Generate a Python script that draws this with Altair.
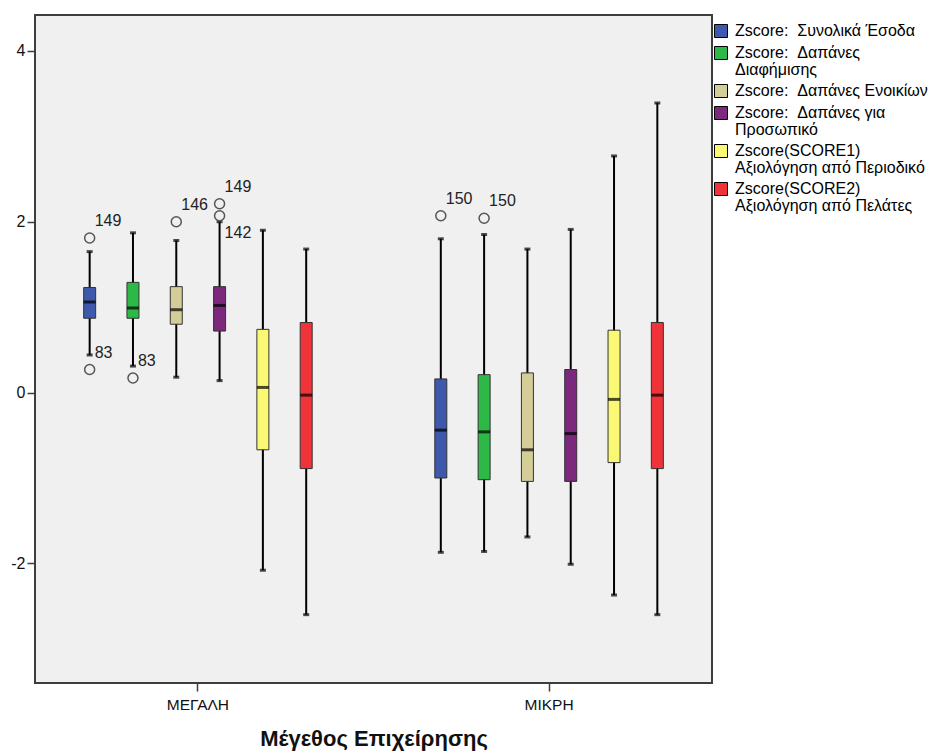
import altair as alt
import pandas as pd

# ---------------- data ----------------
groups = ["ΜΕΓΑΛΗ", "ΜΙΚΡΗ"]
series = [
    "Zscore:\u00a0 Συνολικά Έσοδα",
    "Zscore:\u00a0 Δαπάνες\nΔιαφήμισης",
    "Zscore:\u00a0 Δαπάνες Ενοικίων",
    "Zscore:\u00a0 Δαπάνες για\nΠροσωπικό",
    "Zscore(SCORE1)\nΑξιολόγηση από Περιοδικό",
    "Zscore(SCORE2)\nΑξιολόγηση από Πελάτες",
]
colors = ["#3E58AC", "#2EB848", "#D3CE97", "#7C287D", "#FBF873", "#EF3338"]

# box statistics per group, in series order
whisker_low = {"ΜΕΓΑΛΗ": [0.44, 0.31, 0.18, 0.14, -2.08, -2.60],
               "ΜΙΚΡΗ": [-1.87, -1.86, -1.69, -2.01, -2.37, -2.60]}
q1 = {"ΜΕΓΑΛΗ": [0.87, 0.87, 0.80, 0.72, -0.67, -0.89],
      "ΜΙΚΡΗ": [-1.00, -1.02, -1.04, -1.04, -0.82, -0.89]}
median = {"ΜΕΓΑΛΗ": [1.06, 0.99, 0.97, 1.02, 0.06, -0.03],
          "ΜΙΚΡΗ": [-0.44, -0.46, -0.67, -0.48, -0.08, -0.03]}
q3 = {"ΜΕΓΑΛΗ": [1.23, 1.29, 1.24, 1.24, 0.74, 0.82],
      "ΜΙΚΡΗ": [0.16, 0.21, 0.23, 0.27, 0.73, 0.82]}
whisker_high = {"ΜΕΓΑΛΗ": [1.65, 1.87, 1.78, 2.00, 1.90, 1.68],
                "ΜΙΚΡΗ": [1.80, 1.85, 1.68, 1.91, 2.77, 3.39]}

# outliers
out_group = ["ΜΕΓΑΛΗ", "ΜΕΓΑΛΗ", "ΜΕΓΑΛΗ", "ΜΕΓΑΛΗ", "ΜΕΓΑΛΗ", "ΜΕΓΑΛΗ", "ΜΙΚΡΗ", "ΜΙΚΡΗ"]
out_series_idx = [0, 0, 1, 2, 3, 3, 0, 1]
out_value = [1.81, 0.27, 0.17, 2.00, 2.21, 2.07, 2.07, 2.04]
out_label = ["149", "83", "83", "146", "149", "142", "150", "150"]
labels_below = ["142"]

y_ticks = [-2, 0, 2, 4]
y_domain = [-3.4, 4.42]

# ---------------- tables ----------------
rows = []
for g in groups:
    for i, s in enumerate(series):
        rows.append({"group": g, "series": s,
                     "lo": whisker_low[g][i], "q1": q1[g][i], "med": median[g][i],
                     "q3": q3[g][i], "hi": whisker_high[g][i]})
box_df = pd.DataFrame(rows)

out_df = pd.DataFrame({
    "group": out_group,
    "series": [series[i] for i in out_series_idx],
    "value": out_value,
    "label": out_label,
})

FONT = "Liberation Sans"

x_enc = alt.X("group:N",
              scale=alt.Scale(domain=groups, paddingInner=0.26, paddingOuter=0.094),
              axis=alt.Axis(title="Μέγεθος Επιχείρησης", labelAngle=0, domain=False,
                            tickSize=8, tickColor="#3d3d3d", tickWidth=1.5,
                            labelFontSize=15.5, labelPadding=6, labelColor="#111",
                            labelFont=FONT, titleFont=FONT, titleFontSize=22,
                            titleFontWeight="bold", titleColor="#111",
                            titleY=55, titleBaseline="middle"))
xo_enc = alt.XOffset("series:N",
                     scale=alt.Scale(domain=series, paddingInner=0, paddingOuter=0))
y_scale = alt.Scale(domain=y_domain, nice=False, zero=False)
y_axis = alt.Axis(title=None, values=y_ticks, labelExpr="datum.value + ''",
                  grid=False, domain=False,
                  tickSize=8, tickColor="#3d3d3d", tickWidth=1.5, labelFontSize=16,
                  labelPadding=2, labelColor="#111", labelFont=FONT)

base = alt.Chart(box_df).encode(x=x_enc, xOffset=xo_enc)

whisker = base.mark_rule(color="black", strokeWidth=2).encode(
    y=alt.Y("lo:Q", scale=y_scale, axis=y_axis), y2="hi:Q")
cap_lo = base.mark_tick(color="black", size=6, thickness=3).encode(
    y=alt.Y("lo:Q", scale=y_scale))
cap_hi = base.mark_tick(color="black", size=6, thickness=3).encode(
    y=alt.Y("hi:Q", scale=y_scale))
box = base.mark_bar(width=12, stroke="#333333", strokeWidth=1).encode(
    y=alt.Y("q1:Q", scale=y_scale), y2="q3:Q",
    color=alt.Color("series:N",
                    scale=alt.Scale(domain=series, range=colors),
                    legend=alt.Legend(orient="none", legendX=678, legendY=8, title=None,
                                      symbolType="square", symbolSize=169,
                                      symbolStrokeColor="black", symbolStrokeWidth=1,
                                      symbolOpacity=1, labelFontSize=16,
                                      labelFont=FONT, labelColor="black",
                                      labelLimit=400, labelOffset=6, rowPadding=4,
                                      padding=0,
                                      labelExpr="split(datum.label, '\\n')")))
med = base.mark_tick(color="black", size=12, thickness=3).encode(
    y=alt.Y("med:Q", scale=y_scale))

obase = alt.Chart(out_df).encode(x=x_enc, xOffset=xo_enc,
                                 y=alt.Y("value:Q", scale=y_scale))
pts = obase.mark_point(shape="circle", filled=False, size=100, stroke="#555555",
                       strokeWidth=1.5, opacity=1)
lab_above = obase.transform_filter(
    ~alt.FieldOneOfPredicate(field="label", oneOf=labels_below)
).mark_text(align="left", baseline="middle", dx=5, dy=-17, fontSize=16,
            font=FONT, color="#222").encode(text="label:N")
lab_below = obase.transform_filter(
    alt.FieldOneOfPredicate(field="label", oneOf=labels_below)
).mark_text(align="left", baseline="middle", dx=5, dy=17, fontSize=16,
            font=FONT, color="#222").encode(text="label:N")

chart = alt.layer(whisker, cap_lo, cap_hi, box, med, pts, lab_above, lab_below).properties(
    width=677, height=668,
    padding={"left": 35, "top": 15, "right": 224, "bottom": 68},
    autosize=alt.AutoSizeParams(type="none"),
    background="white",
).configure(
    style={"guide-label": {"lineHeight": 16.5}},
    view=alt.ViewConfig(fill="#F0F0F0", stroke="#3d3d3d", strokeWidth=2),
)

chart.save("out.html", embed_options={"renderer": "svg", "actions": False})
